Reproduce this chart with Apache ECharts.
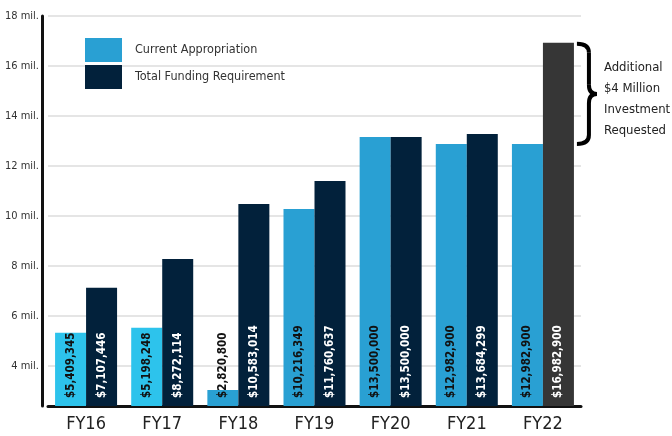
<!DOCTYPE html>
<html>
<head>
<meta charset="utf-8">
<title>funding chart</title>
<script src="https://cdn.jsdelivr.net/npm/echarts@6/dist/echarts.min.js"></script>
<style>
  html, body { margin: 0; padding: 0; background: #fff; }
  #main { width: 672px; height: 436px; }
</style>
</head>
<body>
<div id="main"></div>
<script>
// fiscal years
var years = ['FY16', 'FY17', 'FY18', 'FY19', 'FY20', 'FY21', 'FY22'];
// bar heights as drawn (millions)
var currentVals = [5.33, 5.53, 3.04, 10.28, 13.16, 12.88, 12.88];
var totalVals = [7.13, 8.28, 10.48, 11.4, 13.16, 13.28, 16.93];
// printed labels
var currentLabels = ['$5,409,345', '$5,198,248', '$2,820,800', '$10,216,349', '$13,500,000', '$12,982,900', '$12,982,900'];
var totalLabels = ['$7,107,446', '$8,272,114', '$10,583,014', '$11,760,637', '$13,500,000', '$13,684,299', '$16,982,900'];
var yTicks = [4, 6, 8, 10, 12, 14, 16, 18];
var noteLines = ['Additional', '$4 Million', 'Investment', 'Requested'];

var font = "'Liberation Sans Narrow', 'DejaVu Sans Condensed', 'Roboto', sans-serif";

var chart = echarts.init(document.getElementById('main'));

var option = {
  backgroundColor: '#fff',
  animation: false,
  textStyle: { fontFamily: font },
  grid: { left: 48, width: 533, top: 16, bottom: 30, containLabel: false },
  legend: {
    orient: 'vertical',
    left: 85, top: 38,
    padding: 0,
    itemWidth: 37, itemHeight: 24, itemGap: 3,
    icon: 'rect',
    textStyle: { fontFamily: font, fontSize: 12.5, color: '#333', padding: [0, 0, 0, 8] },
    data: ['Current Appropriation', 'Total Funding Requirement']
  },
  xAxis: {
    type: 'category',
    data: years,
    axisLine: { lineStyle: { color: '#111', width: 3 } },
    axisTick: { show: false },
    axisLabel: { fontFamily: font, fontSize: 18, color: '#222', margin: 9 }
  },
  yAxis: {
    type: 'value',
    min: 2.4, max: 18,
    offset: 6,
    axisLine: { show: true, lineStyle: { color: '#111', width: 3 } },
    axisTick: { show: false, customValues: yTicks },
    axisLabel: {
      customValues: yTicks,
      fontFamily: font, fontSize: 11, color: '#333', margin: 3,
      formatter: function (v) { return v + ' mil.'; }
    },
    splitLine: { show: true, lineStyle: { color: '#dcdcdc', width: 1.5 } }
  },
  series: [
    {
      name: 'Current Appropriation',
      type: 'bar',
      barWidth: 31,
      barGap: '0%',
      itemStyle: { color: '#29a0d3' },
      data: currentVals.map(function (v, i) {
        return i < 2 ? { value: v, itemStyle: { color: '#2dc3ec' } } : v;
      }),
      label: {
        show: true, position: 'insideBottom', rotate: 90, distance: 8,
        align: 'left', verticalAlign: 'middle',
        fontFamily: font, fontWeight: 'bold', fontSize: 11.5, color: '#111',
        formatter: function (p) { return currentLabels[p.dataIndex]; }
      }
    },
    {
      name: 'Total Funding Requirement',
      type: 'bar',
      barWidth: 31,
      barGap: '0%',
      itemStyle: { color: '#02213b' },
      data: totalVals.map(function (v, i) {
        return i === totalVals.length - 1 ? { value: v, itemStyle: { color: '#363636' } } : v;
      }),
      label: {
        show: true, position: 'insideBottom', rotate: 90, distance: 8,
        align: 'left', verticalAlign: 'middle',
        fontFamily: font, fontWeight: 'bold', fontSize: 11.5, color: '#fff',
        formatter: function (p) { return totalLabels[p.dataIndex]; }
      }
    }
  ]
};
chart.setOption(option);

// brace next to FY22 showing the gap between the two bars
var last = years.length - 1;
var pTop = chart.convertToPixel({ gridIndex: 0 }, [last, totalVals[last]]);
var pBot = chart.convertToPixel({ gridIndex: 0 }, [last, currentVals[last]]);
var x0 = pTop[0] + 34, x1 = x0 + 12, x2 = x0 + 20;
var yT = pTop[1] + 1, yB = pBot[1], yM = (yT + yB) / 2, r = 9;
var braceStyle = { stroke: '#000', lineWidth: 4, fill: null };

function curve(ax, ay, bx, by, cx, cy) {
  return { type: 'bezierCurve', shape: { x1: ax, y1: ay, x2: bx, y2: by, cpx1: cx, cpy1: cy }, style: braceStyle };
}
function seg(ax, ay, bx, by) {
  return { type: 'line', shape: { x1: ax, y1: ay, x2: bx, y2: by }, style: braceStyle };
}

chart.setOption({
  graphic: [
    curve(x0, yT, x1, yT + r, x1, yT),
    seg(x1, yT + r, x1, yM - r),
    curve(x1, yM - r, x2, yM, x1, yM),
    curve(x2, yM, x1, yM + r, x1, yM),
    seg(x1, yM + r, x1, yB - r),
    curve(x1, yB - r, x0, yB, x1, yB),
    {
      type: 'text',
      x: x2 + 7, y: yM + 5,
      style: {
        text: noteLines.join('\n'),
        font: '13px ' + font,
        fill: '#222',
        lineHeight: 21,
        verticalAlign: 'middle'
      }
    }
  ]
});
</script>
</body>
</html>
